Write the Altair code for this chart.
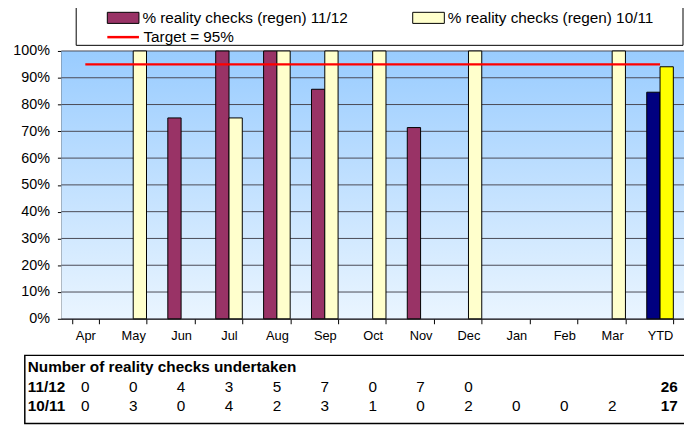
import altair as alt
import pandas as pd

# ---------------- data ----------------
months = ["Apr", "May", "Jun", "Jul", "Aug", "Sep", "Oct", "Nov", "Dec", "Jan", "Feb", "Mar", "YTD"]
seasons = ["11/12", "10/11"]
series = ["% reality checks (regen) 11/12", "% reality checks (regen) 10/11"]
ytd_keys = ["YTD 11/12", "YTD 10/11"]
pct_1112 = [None, None, 0.75, 1.00, 1.00, 0.857, None, 0.714, None, None, None, None, 0.846]
pct_1011 = [None, 1.00, None, 0.75, 1.00, 1.00, 1.00, None, 1.00, None, None, 1.00, 0.941]
target_value = 0.95
target_label = "Target = 95%"
checks_1112 = ["0", "0", "4", "3", "5", "7", "0", "7", "0", "", "", "", "26"]
checks_1011 = ["0", "3", "0", "4", "2", "3", "1", "0", "2", "0", "0", "2", "17"]
table_title = "Number of reality checks undertaken"
y_ticks = [0.0, 0.1, 0.2, 0.3, 0.4, 0.5, 0.6, 0.7, 0.8, 0.9, 1.0]

colors = ["#993366", "#FFFFCC", "#000080", "#FFFF00"]

W, H = 630, 271
FONT = "Liberation Sans"

# ---------------- tables ----------------
rows = []
for si, vals in enumerate([pct_1112, pct_1011]):
    for m, v in zip(months, vals):
        if v is None:
            continue
        key = ytd_keys[si] if m == "YTD" else series[si]
        rows.append({"month": m, "season": seasons[si], "key": key, "value": v})
bars_df = pd.DataFrame(rows)

target_df = pd.DataFrame({"month": months, "value": [target_value] * len(months),
                          "name": [target_label] * len(months)})
grid_df = pd.DataFrame({"value": y_ticks})

t1112 = pd.DataFrame({"month": months[:-1], "txt": checks_1112[:-1]})
t1011 = pd.DataFrame({"month": months[:-1], "txt": checks_1011[:-1]})
ytd1112 = pd.DataFrame({"month": months[-1:], "txt": checks_1112[-1:]})
ytd1011 = pd.DataFrame({"month": months[-1:], "txt": checks_1011[-1:]})

# ---------------- encodings ----------------
x_axis = alt.Axis(title=None, labelAngle=0, labelFontSize=13, labelColor="black",
                  domainColor="black", tickColor="black", tickSize=5, tickBand="extent",
                  labelPadding=6, grid=False)
x_enc = alt.X("month:N", scale=alt.Scale(domain=months, paddingInner=0.445, paddingOuter=0.2225),
              axis=x_axis)
y_axis = alt.Axis(title=None, values=y_ticks, format=".0%", labelFontSize=14.5, labelColor="black",
                  domainColor="black", tickColor="black", tickSize=4, labelPadding=8, grid=False)
y_enc = alt.Y("value:Q", scale=alt.Scale(domain=[0, 1], nice=False), axis=y_axis)

gradient = alt.LinearGradient(
    gradient="linear",
    stops=[alt.GradientStop(color="#99CCFF", offset=0), alt.GradientStop(color="#EAF5FF", offset=1)],
    x1=0, x2=0, y1=0, y2=1,
)

background = alt.Chart(alt.Data(values=[{"a": 1}])).mark_rect(fill=gradient).encode(
    x=alt.value(0), x2=alt.value(W), y=alt.value(0), y2=alt.value(H)
)

grid = alt.Chart(grid_df).mark_rule(color="#4a4a55", strokeWidth=1).encode(
    y=y_enc, x=alt.value(0), x2=alt.value(W)
)

bars = alt.Chart(bars_df).mark_bar(stroke="black", strokeWidth=1).encode(
    x=x_enc,
    xOffset=alt.XOffset("season:N", scale=alt.Scale(domain=seasons, paddingInner=0, paddingOuter=0)),
    y=y_enc,
    fill=alt.Fill("key:N", scale=alt.Scale(domain=series + ytd_keys, range=colors),
                  legend=alt.Legend(orient="none", legendX=46, legendY=-50, columns=2,
                                    columnPadding=62, values=series, title=None, padding=0,
                                    symbolType="M-1,-0.35H1V0.35H-1Z", symbolSize=1024,
                                    symbolStrokeColor="black", symbolStrokeWidth=1,
                                    labelFontSize=15.5, labelColor="black", labelOffset=3,
                                    labelLimit=400)),
)

line = alt.Chart(target_df).mark_line(strokeWidth=2.5).encode(
    x=x_enc, y=y_enc,
    stroke=alt.Stroke("name:N", scale=alt.Scale(domain=[target_label], range=["#FF0000"]),
                      legend=alt.Legend(orient="none", legendX=45, legendY=-31.5, title=None,
                                        padding=0, symbolType="stroke", symbolSize=1024,
                                        symbolStrokeWidth=2.5, labelFontSize=15.5,
                                        labelColor="black", labelOffset=3)),
)

ROW1, ROW2, TITLE_Y = 340.5, 359.5, 320
TXT = 15.5

title_txt = alt.Chart(alt.Data(values=[{"t": table_title}])).mark_text(
    align="left", baseline="middle", fontWeight="bold", fontSize=TXT, color="black"
).encode(x=alt.value(-34), y=alt.value(TITLE_Y), text="t:N")

lab1 = alt.Chart(alt.Data(values=[{"t": seasons[0]}])).mark_text(
    align="left", baseline="middle", fontWeight="bold", fontSize=TXT, color="black"
).encode(x=alt.value(-34), y=alt.value(ROW1), text="t:N")
lab2 = alt.Chart(alt.Data(values=[{"t": seasons[1]}])).mark_text(
    align="left", baseline="middle", fontWeight="bold", fontSize=TXT, color="black"
).encode(x=alt.value(-34), y=alt.value(ROW2), text="t:N")

num1 = alt.Chart(t1112).mark_text(baseline="middle", fontSize=TXT, color="black").encode(
    x=x_enc, y=alt.value(ROW1), text="txt:N")
num2 = alt.Chart(t1011).mark_text(baseline="middle", fontSize=TXT, color="black").encode(
    x=x_enc, y=alt.value(ROW2), text="txt:N")
ytdn1 = alt.Chart(ytd1112).mark_text(baseline="middle", align="right", dx=18, fontWeight="bold",
                                     fontSize=TXT, color="black").encode(
    x=x_enc, y=alt.value(ROW1), text="txt:N")
ytdn2 = alt.Chart(ytd1011).mark_text(baseline="middle", align="right", dx=18, fontWeight="bold",
                                     fontSize=TXT, color="black").encode(
    x=x_enc, y=alt.value(ROW2), text="txt:N")

legend_box = alt.Chart(alt.Data(values=[{"a": 1}])).mark_rect(
    filled=False, stroke="black", strokeWidth=1
).encode(x=alt.value(15), x2=alt.value(629), y=alt.value(-80), y2=alt.value(-5.7))

table_box = alt.Chart(alt.Data(values=[{"a": 1}])).mark_rect(
    filled=False, stroke="black", strokeWidth=1.5
).encode(x=alt.value(-37), x2=alt.value(700), y=alt.value(308), y2=alt.value(377))

chart = alt.layer(
    background, grid, bars, line, legend_box, table_box,
    title_txt, lab1, lab2, num1, num2, ytdn1, ytdn2
).properties(
    width=W, height=H,
    autosize=alt.AutoSizeParams(type="none"),
    padding={"left": 54, "top": 41, "right": 0, "bottom": 107},
).configure(
    font=FONT, background="white"
).configure_view(
    stroke="transparent"
).configure_legend(
    labelFont=FONT
).configure_axis(
    labelFont=FONT
)

chart.save("out.html", embed_options={"renderer": "svg", "actions": False})
